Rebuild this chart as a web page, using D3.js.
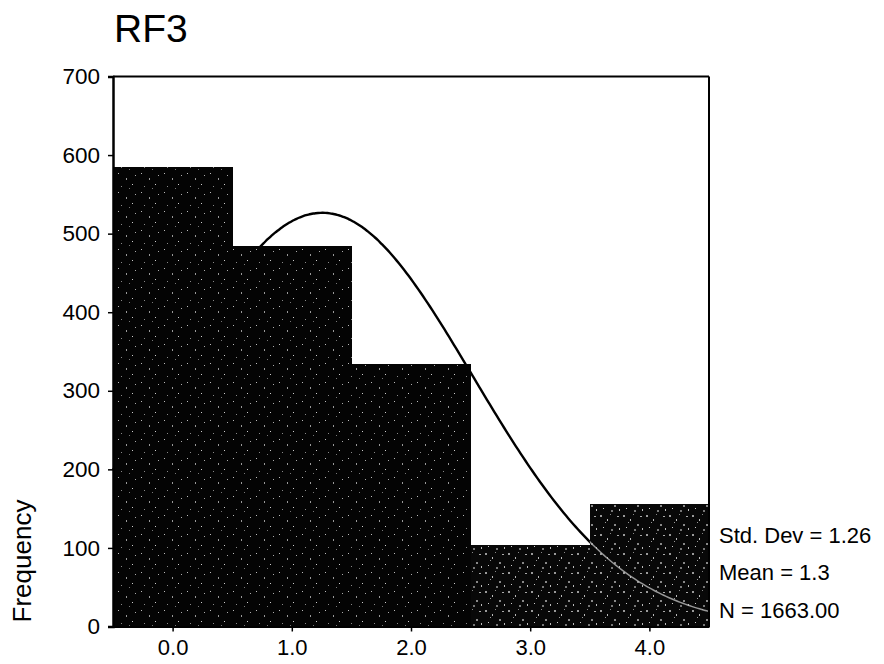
<!DOCTYPE html>
<html>
<head>
<meta charset="utf-8">
<script src="https://cdn.jsdelivr.net/npm/d3@7"></script>
<style>
  html, body { margin: 0; padding: 0; background: #fff; }
  svg { display: block; font-family: "Liberation Sans", Arial, sans-serif; }
</style>
</head>
<body>
<svg id="chart" width="884" height="664"></svg>
<script>
// ---- data ----
const title = "RF3";
const binCenters = [0, 1, 2, 3, 4];
const frequencies = [585, 484, 334, 104, 156];
const xTickLabels = ["0.0", "1.0", "2.0", "3.0", "4.0"];
const yTicks = [0, 100, 200, 300, 400, 500, 600, 700];
const stdDev = 1.26;
const meanLabel = "1.3";
const nTotal = 1663;
const statLines = ["Std. Dev = 1.26", "Mean = 1.3", "N = 1663.00"];

// ---- layout ----
const svg = d3.select("#chart");
const mLeft = 113, mRight = 709, mTop = 76.5, mBottom = 626.5;
const binWidth = 1;

const x = d3.scaleLinear().domain([-0.5, 4.5]).range([mLeft, mRight]);
const y = d3.scaleLinear().domain([0, 700]).range([mBottom, mTop]);

// texture patterns (styling only)
const defs = svg.append("defs");
function makePattern(id, base, dots) {
  const p = defs.append("pattern").attr("id", id)
    .attr("patternUnits", "userSpaceOnUse").attr("width", 23).attr("height", 19);
  p.append("rect").attr("width", 23).attr("height", 19).attr("fill", base);
  dots.forEach(d => p.append("rect").attr("x", d[0]).attr("y", d[1])
    .attr("width", d[2]).attr("height", d[3]).attr("fill", d[4]));
}
makePattern("texDark", "#040404", [
  [3, 2, 1, 1, "#bbb"], [11, 7, 1, 2, "#999"], [17, 13, 1, 1, "#ccc"],
  [6, 15, 1, 1, "#888"], [20, 4, 1, 1, "#aaa"], [14, 17, 1, 1, "#777"]
]);
makePattern("texLight", "#080808", [
  [2, 2, 2, 2, "#9a9a9a"], [9, 6, 1, 2, "#bbb"], [16, 11, 2, 2, "#888"],
  [5, 14, 1, 1, "#ccc"], [19, 3, 2, 1, "#aaa"], [13, 16, 2, 2, "#777"],
  [7, 9, 1, 1, "#999"], [21, 15, 1, 2, "#bbb"], [12, 1, 1, 1, "#888"]
]);

// normal curve based on stats
const meanVal = d3.sum(binCenters.map((c, i) => c * frequencies[i])) / d3.sum(frequencies);
const curvePts = d3.range(-0.5, 4.5001, 0.02).map(v => [v,
  nTotal * binWidth / (stdDev * Math.sqrt(2 * Math.PI)) *
  Math.exp(-((v - meanVal) ** 2) / (2 * stdDev * stdDev))]);
const line = d3.line().x(d => x(d[0])).y(d => y(d[1])).curve(d3.curveBasis);

svg.append("path").datum(curvePts).attr("d", line)
  .attr("fill", "none").attr("stroke", "#000").attr("stroke-width", 2.4);

// bars
svg.append("g").attr("shape-rendering", "crispEdges")
  .selectAll("rect").data(binCenters).join("rect")
  .attr("x", d => x(d - binWidth / 2))
  .attr("width", d => x(d + binWidth / 2) - x(d - binWidth / 2) + 0.5)
  .attr("y", (d, i) => y(frequencies[i]))
  .attr("height", (d, i) => y(0) - y(frequencies[i]))
  .attr("fill", (d, i) => i >= 3 ? "url(#texLight)" : "url(#texDark)");

// faint curve visible through last bar
const lastIdx = binCenters.length - 1;
defs.append("clipPath").attr("id", "lastBar").append("rect")
  .attr("x", x(binCenters[lastIdx] - binWidth / 2))
  .attr("width", x(binCenters[lastIdx] + binWidth / 2) - x(binCenters[lastIdx] - binWidth / 2))
  .attr("y", y(frequencies[lastIdx]) + 4)
  .attr("height", y(0) - y(frequencies[lastIdx]));
svg.append("path").datum(curvePts).attr("d", line)
  .attr("clip-path", "url(#lastBar)")
  .attr("fill", "none").attr("stroke", "#bbb").attr("stroke-width", 1.5).attr("opacity", 0.8);

// frame (top & right)
svg.append("line").attr("x1", mLeft).attr("x2", mRight).attr("y1", mTop).attr("y2", mTop)
  .attr("stroke", "#000").attr("stroke-width", 2);
svg.append("line").attr("x1", mRight).attr("x2", mRight).attr("y1", mTop).attr("y2", mBottom)
  .attr("stroke", "#000").attr("stroke-width", 2);

// y axis
const yAxis = svg.append("g").attr("transform", `translate(${mLeft},0)`)
  .call(d3.axisLeft(y).tickValues(yTicks).tickFormat(d3.format("d")).tickSize(5).tickPadding(8));
yAxis.select(".domain").attr("stroke-width", 2.5);
yAxis.selectAll(".tick line").attr("stroke-width", 1.5);
yAxis.selectAll("text").attr("font-size", 22.5).attr("fill", "#000")
  .attr("font-family", "Liberation Sans, Arial, sans-serif");

// x axis
const xAxis = svg.append("g").attr("transform", `translate(0,${mBottom})`)
  .call(d3.axisBottom(x).tickValues(binCenters).tickFormat((d, i) => xTickLabels[i])
    .tickSize(5).tickPadding(8).tickSizeOuter(0));
xAxis.select(".domain").attr("stroke-width", 2);
xAxis.selectAll(".tick line").attr("stroke-width", 1.5);
xAxis.selectAll("text").attr("font-size", 22).attr("fill", "#000")
  .attr("font-family", "Liberation Sans, Arial, sans-serif");

// title
svg.append("text").attr("x", 114).attr("y", 42).attr("font-size", 39).text(title);

// y label
svg.append("text").attr("transform", "translate(31,561) rotate(-90)")
  .attr("text-anchor", "middle").attr("font-size", 26).text("Frequency");

// stats
svg.append("g").selectAll("text").data(statLines).join("text")
  .attr("x", 719).attr("y", (d, i) => 543 + i * 37.3)
  .attr("font-size", 22).text(d => d);
</script>
</body>
</html>
